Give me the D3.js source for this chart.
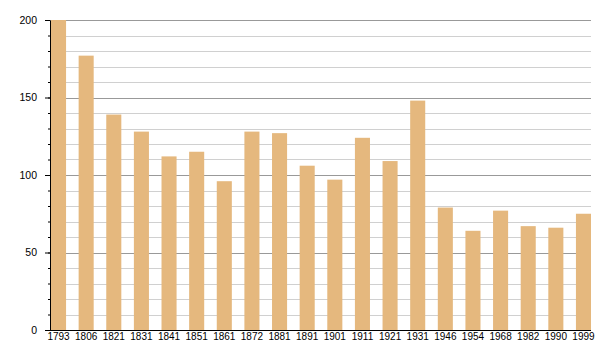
<!DOCTYPE html>
<html>
<head>
<meta charset="utf-8">
<script src="https://cdn.jsdelivr.net/npm/d3@7"></script>
<style>
  body { margin: 0; background: #fff; }
  text { font-family: "Liberation Sans", Arial, sans-serif; }
</style>
</head>
<body>
<div id="chart"></div>
<script>
// data
const years = ["1793", "1806", "1821", "1831", "1841", "1851", "1861", "1872", "1881", "1891",
  "1901", "1911", "1921", "1931", "1946", "1954", "1968", "1982", "1990", "1999"];
const population = [200, 177, 139, 128, 112, 115, 96, 128, 127, 106,
  97, 124, 109, 148, 79, 64, 77, 67, 66, 75];
const majorTicks = [0, 50, 100, 150, 200];
const minorTicks = d3.range(0, 201, 10);

const width = 600, height = 360,
  margin = { top: 20, right: 9, bottom: 30, left: 50 };

const svg = d3.select("#chart").append("svg")
  .attr("width", width)
  .attr("height", height);

const x = d3.scaleBand()
  .domain(years)
  .range([margin.left + 1, width - margin.right])
  .paddingInner(0.455)
  .paddingOuter(0);

const y = d3.scaleLinear()
  .domain([0, 200])
  .range([height - margin.bottom, margin.top]);

// grid lines, minor first then major on top
svg.append("g")
  .selectAll("line")
  .data(minorTicks.filter(d => d % 50 !== 0))
  .join("line")
  .attr("x1", margin.left)
  .attr("x2", width - margin.right)
  .attr("y1", d => Math.round(y(d)) + 0.5)
  .attr("y2", d => Math.round(y(d)) + 0.5)
  .attr("stroke", "#d0d0d0");

svg.append("g")
  .selectAll("line")
  .data(majorTicks.filter(d => d > 0))
  .join("line")
  .attr("x1", margin.left)
  .attr("x2", width - margin.right)
  .attr("y1", d => Math.round(y(d)) + 0.5)
  .attr("y2", d => Math.round(y(d)) + 0.5)
  .attr("stroke", "#999");

// bars
svg.append("g")
  .selectAll("rect")
  .data(population)
  .join("rect")
  .attr("x", (d, i) => x(years[i]))
  .attr("width", x.bandwidth())
  .attr("y", d => y(d))
  .attr("height", d => y(0) - y(d))
  .attr("fill", "#e5b87e");

// y axis: minor ticks then major ticks with labels
const yMinor = svg.append("g")
  .attr("transform", `translate(${margin.left},0)`)
  .call(d3.axisLeft(y).tickValues(minorTicks).tickSize(2).tickFormat(""));
yMinor.select(".domain").remove();

const yAxis = svg.append("g")
  .attr("transform", `translate(${margin.left},0)`)
  .call(d3.axisLeft(y).tickValues(majorTicks).tickSize(5).tickPadding(8).tickSizeOuter(0));
yAxis.selectAll("text").style("font-size", "10.5px").attr("fill", "#000");

// x axis
const xAxis = svg.append("g")
  .attr("transform", `translate(0,${height - margin.bottom})`)
  .call(d3.axisBottom(x).tickSize(0).tickPadding(3));
xAxis.select(".domain")
  .attr("d", `M${margin.left},0.5H${width - margin.right}`);
xAxis.selectAll("text").style("font-size", "10px").attr("fill", "#000");
</script>
</body>
</html>
